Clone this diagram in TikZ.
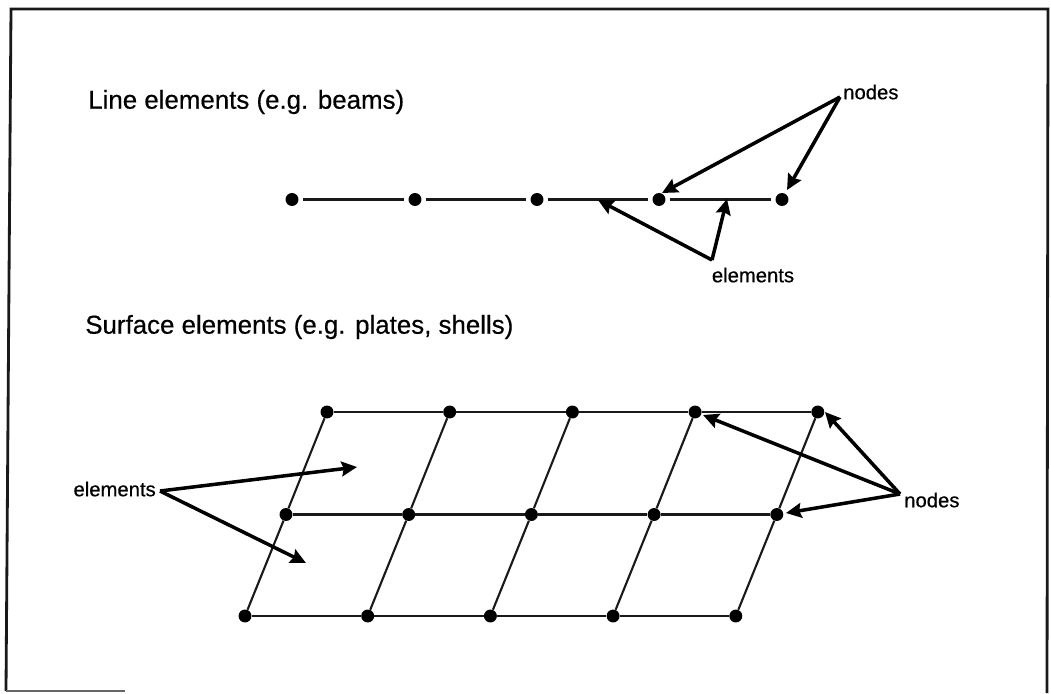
\documentclass[tikz,border=0pt]{standalone}
\usepackage{fontspec}
\setmainfont[FakeBold=0.5]{Liberation Sans}
\usepackage{tikz}
\usetikzlibrary{arrows.meta,positioning}
\tikzset{
  fenode/.style={circle,fill=black,draw=none,inner sep=0pt,minimum size=9.2pt},
  elemline/.style={line width=1.5pt,black!90},
  callout/.style={line width=2.5pt,-{Stealth[length=11pt,width=10.5pt,inset=1.5pt]}},
  heading/.style={font=\fontsize{18.4}{21}\selectfont,anchor=west,inner sep=0pt},
  smalllabel/.style={font=\fontsize{14.4}{16}\selectfont,inner sep=0pt},
}
\begin{document}
\begin{tikzpicture}[x=0.025cm,y=-0.025cm]
  \useasboundingbox (0,0) rectangle (1051,693);
  % frame
  \draw[line width=2pt,black!90] (6,691) -- (11,9) -- (1048,9) -- (1047,693);
  \draw[line width=1.6pt,black!60] (6,691) -- (125,691);
  % headings
  \node[heading] (linehead) at (88,102) {Line elements (e.g. beams)};
  \node[heading] (surfhead) at (85,327) {Surface elements (e.g. plates, shells)};
  % line elements
  \foreach \i/\x in {1/292,2/415,3/537,4/659,5/782}
    \node[fenode] (L\i) at (\x,199.5) {};
  \foreach \a/\b in {1/2,2/3,3/4,4/5}
    \draw[elemline,shorten <=3pt,shorten >=3pt] (L\a) -- (L\b);
  % surface elements
  \foreach \j/\xo/\y in {1/327/412,2/286/514.5,3/245/616}
    \foreach \i in {1,...,5}
      \node[fenode] (S\j\i) at ({\xo+122.7*(\i-1)},\y) {};
  \foreach \j in {1,2,3}
    \foreach \a/\b in {1/2,2/3,3/4,4/5}
      \draw[elemline] (S\j\a) -- (S\j\b);
  \foreach \i in {1,...,5}
    \draw[elemline] (S1\i) -- (S2\i) -- (S3\i);
  % labels
  \node[smalllabel,anchor=west] (nodesa) at (843,92) {nodes};
  \node[smalllabel] (elemsa) at (753,275) {elements};
  \node[smalllabel,anchor=east] (elemsb) at (156,489) {elements};
  \node[smalllabel,anchor=west] (nodesb) at (904,500) {nodes};
  % callouts
  \coordinate (napex) at (840,97);
  \coordinate (eapex) at (712,260);
  \coordinate (mapex) at (160,491);
  \coordinate (oapex) at (900,494);
  \coordinate (e1) at (598,200);
  \coordinate (e2) at (727,199);
  \coordinate (a1) at (357,467);
  \coordinate (a2) at (306,563);
  \draw[callout] (napex) -- (662,193);
  \draw[callout] (napex) -- (787,190);
  \draw[callout] (eapex) -- (e1);
  \draw[callout] (eapex) -- (e2);
  \draw[callout] (mapex) -- (a1);
  \draw[callout] (mapex) -- (a2);
  \draw[callout] (oapex) -- (703,415);
  \draw[callout] (oapex) -- (825,412);
  \draw[callout] (oapex) -- (786,513);
\end{tikzpicture}
\end{document}
